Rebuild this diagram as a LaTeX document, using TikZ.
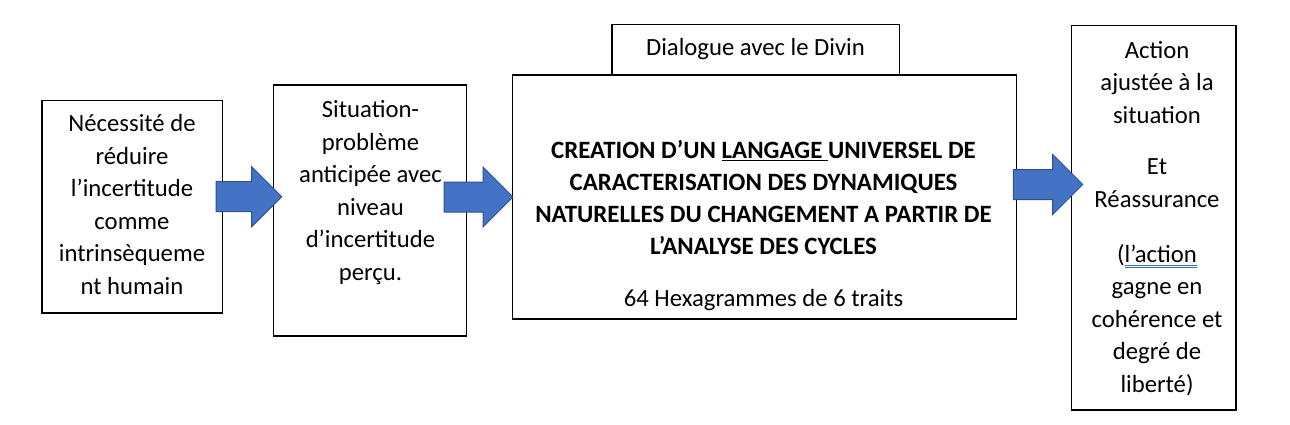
\documentclass[tikz,border=0pt]{standalone}
\usepackage{fontspec}
\setmainfont{Carlito}
\usetikzlibrary{calc}
\definecolor{arrowblue}{HTML}{4472C4}
\definecolor{arrowedge}{HTML}{2F528F}
\definecolor{ulblue}{HTML}{3B6CC4}
\newcommand\topstrut{\rule{0pt}{20pt}}
\newcommand\dblul[1]{\setbox0\hbox{#1}\leavevmode\rlap{\color{ulblue}\rule[-3.5pt]{\wd0}{0.8pt}}\rlap{\color{ulblue}\rule[-6pt]{\wd0}{0.8pt}}\box0}
\newcommand\blockarrow[2]{\path[barrow] let \p1=(#1), \p2=(#2) in (\x1,\y1-15pt) -- (\x2-30pt,\y1-15pt) -- (\x2-30pt,\y1-30pt) -- (\x2,\y1) -- (\x2-30pt,\y1+30pt) -- (\x2-30pt,\y1+15pt) -- (\x1,\y1+15pt) -- cycle;}
\begin{document}
\begin{tikzpicture}[x=1pt,y=-1pt,
  box/.style={draw=black,line width=1.2pt,rectangle,inner sep=0pt},
  txt/.style={anchor=north,inner sep=0pt,align=center,font=\fontsize{24.7}{32.5}\selectfont},
  bigtxt/.style={txt,font=\fontsize{24.9}{32}\selectfont},
  barrow/.style={draw=arrowedge,fill=arrowblue,line width=1pt}]
\useasboundingbox (0,0) rectangle (1290,425);
\fill[white] (0,0) rectangle (1290,425);
% boxes
\node[box,minimum width=180.7pt,minimum height=212.3pt] (b1) at (132.35,206.85) {};
\node[box,minimum width=193.4pt,minimum height=251pt] (b2) at (370,210.5) {};
\node[box,minimum width=504pt,minimum height=244pt] (b3) at (764.7,197) {};
\node[box,minimum width=287.3pt,minimum height=50pt] (dlg) at (755.65,49.3) {};
\node[box,minimum width=164.3pt,minimum height=384.3pt] (b4) at (1153.85,217.85) {};
% texts
\node[txt] (t1) at (132,111.7) {\topstrut Nécessité de\\ réduire\\ l’incertitude\\ comme\\ intrinsèqueme\\ nt humain};
\node[txt] (t2) at (370.5,97.7) {\topstrut Situation-\\ problème\\ anticipée avec\\ niveau\\ d’incertitude\\ perçu.};
\node[bigtxt] (t3) at (763.5,138.3) {\topstrut\textbf{CREATION D’UN \underline{LANGAGE\ }UNIVERSEL DE}\\ \textbf{CARACTERISATION DES DYNAMIQUES}\\ \textbf{NATURELLES DU CHANGEMENT A PARTIR DE}\\ \textbf{L’ANALYSE DES CYCLES}\\[20pt] \fontsize{24.7}{32.5}\selectfont 64 Hexagrammes de 6 traits};
\node[txt] (t4) at (755.5,35) {\topstrut Dialogue avec le Divin};
\node[txt] (t5) at (1157,38) {\topstrut Action\\ ajustée à la\\ situation\\[19pt] Et\\ Réassurance\\[22.5pt] (\dblul{l’action}\\ gagne en\\ cohérence et\\ degré de\\ liberté)};
% block arrows
\coordinate (a1s) at (216,196.7);
\coordinate (a1t) at (281.7,196.7);
\coordinate (a2s) at (444,197);
\coordinate (a2t) at (513,197);
\coordinate (a3s) at (1013.3,184.5);
\coordinate (a3t) at (1082.7,184.5);
\blockarrow{a1s}{a1t}
\blockarrow{a2s}{a2t}
\blockarrow{a3s}{a3t}
\end{tikzpicture}
\end{document}
